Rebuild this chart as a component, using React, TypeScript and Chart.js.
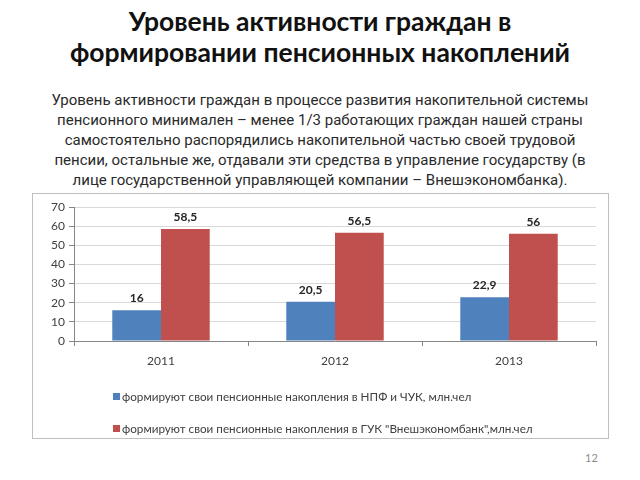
import React, { useEffect, useRef } from "react";
import { Chart, registerables } from "chart.js";

Chart.register(...registerables);

const categories = ["2011", "2012", "2013"];
const npfValues = [16, 20.5, 22.9];
const vebValues = [58.5, 56.5, 56];
const seriesLabels = [
  "формируют свои пенсионные накопления в НПФ и ЧУК, млн.чел",
  'формируют свои пенсионные накопления в ГУК "Внешэкономбанк",млн.чел',
];
const yTicks = [0, 10, 20, 30, 40, 50, 60, 70];

const titleLines = ["Уровень активности граждан в", "формировании пенсионных накоплений"];
const paragraphLines = [
  "Уровень активности граждан в процессе развития накопительной системы",
  "пенсионного минимален – менее 1/3 работающих граждан нашей страны",
  "самостоятельно распорядились накопительной частью своей трудовой",
  "пенсии, остальные же, отдавали эти средства в управление государству (в",
  "лице государственной управляющей компании – Внешэкономбанка).",
];
const pageNumber = "12";

const FONT = "Lato, 'DejaVu Sans', sans-serif";
const NARROW = "'Liberation Sans Narrow', 'Roboto', sans-serif";

const labelPlugin = {
  id: "valueLabels",
  afterDatasetsDraw(chart: any) {
    const ctx = chart.ctx;
    ctx.save();
    ctx.font = `bold 12px ${FONT}`;
    ctx.fillStyle = "#262626";
    ctx.textAlign = "center";
    ctx.textBaseline = "bottom";
    chart.data.datasets.forEach((ds: any, i: number) => {
      const meta = chart.getDatasetMeta(i);
      meta.data.forEach((bar: any, j: number) => {
        const v = ds.data[j];
        ctx.fillText(String(v).replace(".", ","), bar.x, bar.y - 6);
      });
    });
    ctx.restore();
  },
  afterDraw(chart: any) {
    const ctx = chart.ctx;
    ctx.save();
    ctx.font = `11.7px ${FONT}`;
    ctx.textBaseline = "middle";
    ctx.textAlign = "left";
    const rows = [203, 235];
    chart.data.datasets.forEach((ds: any, i: number) => {
      ctx.fillStyle = ds.backgroundColor;
      ctx.fillRect(80, rows[i] - 4, 7, 7);
      ctx.fillStyle = "#404040";
      ctx.fillText(ds.label, 89, rows[i]);
    });
    ctx.restore();
  },
};

function BarChart() {
  const ref = useRef<HTMLCanvasElement>(null);
  useEffect(() => {
    if (!ref.current) return;
    const chart = new Chart(ref.current, {
      type: "bar",
      data: {
        labels: categories,
        datasets: [
          { label: seriesLabels[0], data: npfValues, backgroundColor: "#4F81BD", barPercentage: 1, categoryPercentage: 0.56 },
          { label: seriesLabels[1], data: vebValues, backgroundColor: "#C0504D", barPercentage: 1, categoryPercentage: 0.56 },
        ],
      },
      options: {
        animation: false,
        responsive: false,
        layout: { padding: { left: 0, right: 12, top: 13, bottom: 0 } },
        plugins: { legend: { display: false }, tooltip: { enabled: false } },
        scales: {
          x: {
            grid: { display: true, drawOnChartArea: false, drawTicks: true, tickLength: 5, color: "#868686", offset: true },
            border: { color: "#868686" },
            ticks: { color: "#404040", font: { family: FONT, size: 12 }, padding: 8 },
            afterFit: (s: any) => { s.height = 97; },
          },
          y: {
            min: 0,
            max: 70,
            afterBuildTicks: (s: any) => { s.ticks = yTicks.map((v) => ({ value: v })); },
            grid: { color: "#d9d9d9", tickLength: 5, tickColor: "#868686" },
            border: { color: "#868686" },
            ticks: { color: "#404040", font: { family: FONT, size: 12 }, padding: 4 },
            afterFit: (s: any) => { s.width = 41; },
          },
        },
      },
      plugins: [labelPlugin],
    });
    return () => chart.destroy();
  }, []);
  return <canvas ref={ref} width={575} height={244} style={{ display: "block" }} />;
}

export default function App() {
  return (
    <div style={{ position: "fixed", left: 0, top: 0, width: 640, height: 480, background: "#fff", overflow: "hidden" }}>
      <div style={{ position: "absolute", left: 0, top: 6, width: 640, textAlign: "center", font: `bold 26.5px/31px ${FONT}`, color: "#111" }}>
        {titleLines.map((l) => <div key={l}>{l}</div>)}
      </div>
      <div style={{ position: "absolute", left: 0, top: 90, width: 640, textAlign: "center", font: `15px/20px ${NARROW}`, color: "#2a2a2a" }}>
        {paragraphLines.map((l) => <div key={l}>{l}</div>)}
      </div>
      <div style={{ position: "absolute", left: 32, top: 193, width: 575, height: 244, border: "1px solid #bfbfbf" }}>
        <BarChart />
      </div>
      <div style={{ position: "absolute", left: 585, top: 451, font: `11px ${FONT}`, color: "#8c8c8c" }}>{pageNumber}</div>
    </div>
  );
}
